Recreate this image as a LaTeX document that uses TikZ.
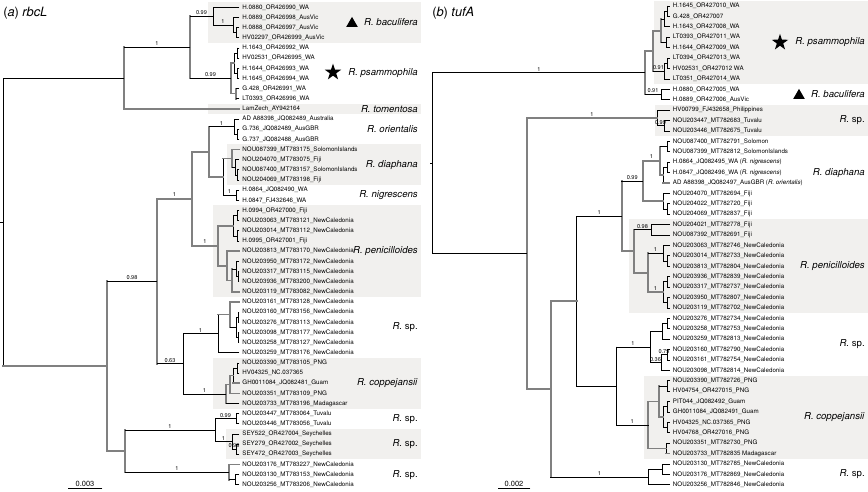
\documentclass[tikz,border=0pt]{standalone}
\usepackage{fontspec}
\setmainfont{TeX Gyre Heros}
\usepackage{tikz}
\usetikzlibrary{shapes.geometric}
\definecolor{CladeShade}{RGB}{241,240,238}
\definecolor{BranchGrey}{RGB}{128,128,128}
\tikzset{
  % thin black branch
  bk/.style={draw=black, line width=0.55pt, line cap=rect},
  % thick grey branch
  gb/.style={draw=BranchGrey, line width=1.25pt, line cap=rect},
  % tip label
  tip/.style={anchor=west, inner xsep=2.4pt, inner ysep=0pt, font=\fontsize{4.65}{4.65}\selectfont},
  % support value
  supp/.style={midway, above, inner sep=0.8pt, font=\fontsize{4.2}{4.2}\selectfont},
  % clade name
  clade/.style={anchor=east, inner sep=0pt, font=\fontsize{7.2}{8}\selectfont},
  % shaded clade
  cladebg/.style={fill=CladeShade},
  % panel title
  ptitle/.style={anchor=west, inner sep=0pt, font=\fontsize{9.6}{10}\selectfont},
  % clade markers
  starmark/.style={star, star points=5, star point ratio=2.6, fill=black, minimum size=13pt, inner sep=0pt},
  trimark/.style={regular polygon, regular polygon sides=3, fill=black, minimum size=10pt, inner sep=0pt},
  % scale bar value
  sbar/.style={above, inner sep=1pt, font=\fontsize{5.6}{6}\selectfont}
}

\begin{document}
\begin{tikzpicture}[x=0.75pt, y=-0.75pt]
  \useasboundingbox (0,0) rectangle (868,492);

  % panel titles
  \node[ptitle] (atitle) at (3,13) {(\textit{a}) \textit{rbcL}};
  \node[ptitle] (btitle) at (432,13) {(\textit{b}) \textit{tufA}};

  % ================= (a) rbcL =================
  \begin{scope}[y=-7.62pt, yshift=2.145pt]
    % shaded clades
    \fill[cladebg] (208,0.5) rectangle (421,4.5);
    \fill[cladebg] (208,10.5) rectangle (421,11.5);
    \fill[cladebg] (227,14.5) rectangle (421,18.5);
    \fill[cladebg] (213,20.5) rectangle (421,29.5);
    \fill[cladebg] (213,35.5) rectangle (421,40.5);
    \fill[cladebg] (226,42.5) rectangle (421,45.5);

    % tips
    \foreach \i/\lab in {
      1/{H.0880\_OR426990\_WA}, 2/{H.0889\_OR426998\_AusVic}, 3/{H.0888\_OR426997\_AusVic},
      4/{HV02297\_OR426999\_AusVic}, 5/{H.1643\_OR426992\_WA}, 6/{HV02531\_OR426995\_WA},
      7/{H.1644\_OR426993\_WA}, 8/{H.1645\_OR426994\_WA}, 9/{G.428\_OR426991\_WA},
      10/{LT0393\_OR426996\_WA}, 11/{LamZech\_AY942164}, 12/{AD A88398\_JQ082489\_Australia},
      13/{G.736\_JQ082489\_AusGBR}, 14/{G.737\_JQ082488\_AusGBR},
      15/{NOU087399\_MT783175\_SolomonIslands}, 16/{NOU204070\_MT783075\_Fiji},
      17/{NOU087400\_MT783157\_SolomonIslands}, 18/{NOU204069\_MT783198\_Fiji},
      19/{H.0864\_JQ082490\_WA}, 20/{H.0847\_FJ432646\_WA}, 21/{H.0994\_OR427000\_Fiji},
      22/{NOU203063\_MT783121\_NewCaledonia}, 23/{NOU203014\_MT783112\_NewCaledonia},
      24/{H.0995\_OR427001\_Fiji}, 25/{NOU203813\_MT783170\_NewCaledonia},
      26/{NOU203950\_MT783172\_NewCaledonia}, 27/{NOU203317\_MT783115\_NewCaledonia},
      28/{NOU203936\_MT783200\_NewCaledonia}, 29/{NOU203119\_MT783082\_NewCaledonia},
      30/{NOU203161\_MT783128\_NewCaledonia}, 31/{NOU203160\_MT783156\_NewCaledonia},
      32/{NOU203276\_MT783113\_NewCaledonia}, 33/{NOU203098\_MT783177\_NewCaledonia},
      34/{NOU203258\_MT783127\_NewCaledonia}, 35/{NOU203259\_MT783176\_NewCaledonia},
      36/{NOU203390\_MT783105\_PNG}, 37/{HV04325\_NC.037365}, 38/{GH0011084\_JQ082481\_Guam},
      39/{NOU203351\_MT783109\_PNG}, 40/{NOU203733\_MT783196\_Madagascar},
      41/{NOU203447\_MT783064\_Tuvalu}, 42/{NOU203446\_MT783056\_Tuvalu},
      43/{SEY522\_OR427004\_Seychelles}, 44/{SEY279\_OR427002\_Seychelles},
      45/{SEY472\_OR427003\_Seychelles}, 46/{NOU203176\_MT783227\_NewCaledonia},
      47/{NOU203130\_MT783153\_NewCaledonia}, 48/{NOU203256\_MT783206\_NewCaledonia}}
      \node[tip] (a\i) at (239,\i) {\lab};

    % internal nodes
    \coordinate (aStem) at (0,22.148);
    \coordinate (aR) at (3.3,22.148);
    \coordinate (aA) at (124,7.969);
    \coordinate (aB) at (190,4.9375);
    \coordinate (aC) at (213,1.875);
    \coordinate (aE) at (233,2.75);
    \coordinate (aF) at (236,3.5);
    \coordinate (aD) at (231,8);
    \coordinate (aG) at (234,6.5);
    \coordinate (aG1) at (237,5.5);
    \coordinate (aG2) at (237,7.5);
    \coordinate (aH) at (236,9.5);
    \coordinate (aI) at (107,36.328);
    \coordinate (aJ) at (157,27.969);
    \coordinate (aL) at (192,19.844);
    \coordinate (aN) at (209,15.219);
    \coordinate (aO) at (234,12.75);
    \coordinate (aO1) at (237,13.5);
    \coordinate (aQ) at (223,17.6875);
    \coordinate (aDI) at (232,15.875);
    \coordinate (aDI1) at (235,16.75);
    \coordinate (aDI2) at (237.5,17.5);
    \coordinate (aNI) at (236,19.5);
    \coordinate (aP) at (218,24.469);
    \coordinate (aP1) at (233,22.5);
    \coordinate (aP1a) at (237,21.5);
    \coordinate (aP1b) at (237,23.5);
    \coordinate (aP2) at (227,26.4375);
    \coordinate (aP2b) at (232,27.875);
    \coordinate (aP2c) at (236,26.75);
    \coordinate (aP2d) at (238,27.5);
    \coordinate (aM) at (183,36.094);
    \coordinate (aS) at (218,33.125);
    \coordinate (aS1) at (230,31.25);
    \coordinate (aS2) at (236,32.5);
    \coordinate (aS3) at (238,31.5);
    \coordinate (aS4) at (238,33.5);
    \coordinate (aCO) at (226,39.0625);
    \coordinate (aCO1) at (230,38.125);
    \coordinate (aCO2) at (233,37.25);
    \coordinate (aCO3) at (237,36.5);
    \coordinate (aK) at (125,44.6875);
    \coordinate (aT) at (215,42.625);
    \coordinate (aT1) at (236,41.5);
    \coordinate (aT2) at (232,43.75);
    \coordinate (aT3) at (236,44.5);
    \coordinate (aU) at (229,46.75);
    \coordinate (aU1) at (235,47.5);

    % node bars
    \foreach \nd/\ca/\cb in {aA/aB/a11, aB/aC/aD, aD/aG/aH, aH/a9/a10, aI/aJ/aK, aJ/aL/aM,
        aL/aN/aP, aN/aO/aQ, aDI/a15/aDI1, aP/aP1/aP2, aP2/a25/aP2b, aP2b/aP2c/a29,
        aS1/a30/aS2, aCO/aCO1/a40, aCO1/aCO2/a39, aK/aT/aU, aU/a46/aU1}
      \draw[gb] (\nd |- \ca) -- (\nd |- \cb);
    \foreach \nd/\ca/\cb in {aR/aA/aI, aC/a1/aE, aE/a2/aF, aF/a3/a4, aG/aG1/aG2, aG1/a5/a6,
        aG2/a7/a8, aO/a12/aO1, aO1/a13/a14, aQ/aDI/aNI, aDI1/a16/aDI2, aDI2/a17/a18,
        aNI/a19/a20, aP1/aP1a/aP1b, aP1a/a21/a22, aP1b/a23/a24, aP2c/a26/aP2d,
        aP2d/a27/a28, aM/aS/aCO, aS/aS1/a35, aS2/aS3/aS4, aS3/a31/a32, aS4/a33/a34,
        aCO2/aCO3/a38, aCO3/a36/a37, aT/aT1/aT2, aT1/a41/a42, aT2/a43/aT3, aT3/a44/a45,
        aU1/a47/a48}
      \draw[bk] (\nd |- \ca) -- (\nd |- \cb);

    % branches
    \draw[bk] (aStem) -- (aR);
    \foreach \p/\c in {aR/aI, aA/a11, aD/aG, aD/aH, aI/aK, aL/aN, aN/aQ, aQ/aDI, aDI/a15,
        aP/aP1, aP/aP2, aP2/a25, aP2/aP2b, aP2b/a29, aS/aS1, aS1/a30, aCO/aCO1,
        aCO1/aCO2, aCO1/a39, aCO2/a38, aU/a46}
      \draw[gb] (\p |- \c) -- (\c);
    \foreach \p/\c in {aR/aA, aC/a1, aE/a2, aE/aF, aF/a3, aF/a4, aG/aG1, aG/aG2, aG1/a5,
        aG1/a6, aG2/a7, aG2/a8, aH/a9, aH/a10, aO/a12, aO/aO1, aO1/a13, aO1/a14,
        aDI/aDI1, aDI1/a16, aDI1/aDI2, aDI2/a17, aDI2/a18, aNI/a19, aNI/a20,
        aP1/aP1a, aP1/aP1b, aP1a/a21, aP1a/a22, aP1b/a23, aP1b/a24, aP2b/aP2c,
        aP2c/a26, aP2c/aP2d, aP2d/a27, aP2d/a28, aS/a35, aS1/aS2, aS2/aS3, aS2/aS4,
        aS3/a31, aS3/a32, aS4/a33, aS4/a34, aCO/a40, aCO2/aCO3, aCO3/a36, aCO3/a37,
        aT1/a41, aT1/a42, aT2/a43, aT3/a44, aT3/a45, aU/aU1, aU1/a47, aU1/a48}
      \draw[bk] (\p |- \c) -- (\c);

    % branches with support values
    \draw[gb] (aJ |- aL) -- node[supp] {1} (aL);
    \draw[gb] (aL |- aP) -- node[supp] {1} (aP);
    \draw[bk] (aA |- aB) -- node[supp] {1} (aB);
    \draw[bk] (aB |- aC) -- node[supp] {0.99} (aC);
    \draw[bk] (aB |- aD) -- node[supp] {0.99} (aD);
    \draw[bk] (aC |- aE) -- node[supp] {1} (aE);
    \draw[bk] (aN |- aO) -- node[supp] {1} (aO);
    \draw[bk] (aQ |- aNI) -- node[supp] {1} (aNI);
    \draw[bk] (aI |- aJ) -- node[supp] {0.98} (aJ);
    \draw[bk] (aJ |- aM) -- node[supp] {0.63} (aM);
    \draw[bk] (aM |- aS) -- node[supp] {1} (aS);
    \draw[bk] (aM |- aCO) -- node[supp] {1} (aCO);
    \draw[bk] (aK |- aT) -- node[supp] {1} (aT);
    \draw[bk] (aK |- aU) -- node[supp] {1} (aU);
    \draw[bk] (aT |- aT1) -- node[supp] {0.99} (aT1);
    \draw[bk] (aT |- aT2) -- node[supp] {1} (aT2);
    \draw[bk] (aT2 |- aT3) -- node[supp] {0.99} (aT3);

    % clade names
    \node[trimark] (atri) at (352,2.6) {};
    \node[starmark] (astar) at (333,7.4) {};
    \node[clade] (abac) at (418,2.5) {\textit{R. baculifera}};
    \node[clade] (apsa) at (418,7.5) {\textit{R. psammophila}};
    \node[clade] (atom) at (418,11) {\textit{R. tomentosa}};
    \node[clade] (aori) at (418,13) {\textit{R. orientalis}};
    \node[clade] (adia) at (418,16.5) {\textit{R. diaphana}};
    \node[clade] (anig) at (418,19.5) {\textit{R. nigrescens}};
    \node[clade] (apen) at (418,25) {\textit{R. penicilloides}};
    \node[clade] (asp1) at (418,32.5) {\textit{R.} sp.};
    \node[clade] (acop) at (418,38) {\textit{R. coppejansii}};
    \node[clade] (asp2) at (418,41.5) {\textit{R.} sp.};
    \node[clade] (asp3) at (418,44) {\textit{R.} sp.};
    \node[clade] (asp4) at (418,47) {\textit{R.} sp.};
  \end{scope}

  % ================= (b) tufA =================
  \begin{scope}[y=-7.8075pt, yshift=3.3075pt]
    % shaded clades
    \fill[cladebg] (654,0.5) rectangle (868,8.5);
    \fill[cladebg] (655,10.5) rectangle (868,13.5);
    \fill[cladebg] (629,21.5) rectangle (868,30.5);
    \fill[cladebg] (644,36.5) rectangle (868,44.5);

    % tips
    \foreach \i/\lab in {
      1/{H.1645\_OR427010\_WA}, 2/{G.428\_OR427007}, 3/{H.1643\_OR427008\_WA},
      4/{LT0393\_OR427011\_WA}, 5/{H.1644\_OR427009\_WA}, 6/{LT0394\_OR427013\_WA},
      7/{HV02531\_OR427012 WA}, 8/{LT0351\_OR427014\_WA}, 9/{H.0880\_OR427005\_WA},
      10/{H.0889\_OR427006\_AusVic}, 11/{HV00799\_FJ432658\_Philippines},
      12/{NOU203447\_MT782683\_Tuvalu}, 13/{NOU203446\_MT782675\_Tuvalu},
      14/{NOU087400\_MT782791\_Solomon}, 15/{NOU087399\_MT782812\_SolomonIslands},
      16/{H.0864\_JQ082495\_WA (\textit{R. nigrescens})},
      17/{H.0847\_JQ082496\_WA (\textit{R. nigrescens})},
      18/{AD A88398\_JQ082497\_AusGBR (\textit{R. orientalis})},
      19/{NOU204070\_MT782694\_Fiji}, 20/{NOU204022\_MT782720\_Fiji},
      21/{NOU204069\_MT782837\_Fiji}, 22/{NOU204021\_MT782778\_Fiji},
      23/{NOU087392\_MT782691\_Fiji}, 24/{NOU203063\_MT782746\_NewCaledonia},
      25/{NOU203014\_MT782733\_NewCaledonia}, 26/{NOU203813\_MT782804\_NewCaledonia},
      27/{NOU203936\_MT782839\_NewCaledonia}, 28/{NOU203317\_MT782737\_NewCaledonia},
      29/{NOU203950\_MT782807\_NewCaledonia}, 30/{NOU203119\_MT782702\_NewCaledonia},
      31/{NOU203276\_MT782734\_NewCaledonia}, 32/{NOU203258\_MT782753\_NewCaledonia},
      33/{NOU203259\_MT782813\_NewCaledonia}, 34/{NOU203160\_MT782790\_NewCaledonia},
      35/{NOU203161\_MT782754\_NewCaledonia}, 36/{NOU203098\_MT782814\_NewCaledonia},
      37/{NOU203390\_MT782726\_PNG}, 38/{HV04754\_OR427015\_PNG}, 39/{PIT044\_JQ082492\_Guam},
      40/{GH0011084\_JQ082491\_Guam}, 41/{HV04325\_NC.037365\_PNG}, 42/{HV04768\_OR427016\_PNG},
      43/{NOU203351\_MT782730\_PNG}, 44/{NOU203733\_MT782835 Madagascar},
      45/{NOU203130\_MT782785\_NewCaledonia}, 46/{NOU203176\_MT782869\_NewCaledonia},
      47/{NOU203256\_MT782846\_NewCaledonia}}
      \node[tip] (b\i) at (669.5,\i) {\lab};

    % internal nodes
    \coordinate (bStem) at (430,16.09);
    \coordinate (bR) at (432.7,16.09);
    \coordinate (bA) at (645,7.406);
    \coordinate (bPs) at (653,5.3125);
    \coordinate (bPs1) at (661,3.375);
    \coordinate (bPs1a) at (664,2.25);
    \coordinate (bPs1c) at (667,1.5);
    \coordinate (bPs1b) at (666,4.5);
    \coordinate (bPs2) at (664,7.25);
    \coordinate (bPs2a) at (667,6.5);
    \coordinate (bBa) at (661,9.5);
    \coordinate (bB) at (526.7,24.773);
    \coordinate (bXs) at (657,11.75);
    \coordinate (bXs1) at (664,12.5);
    \coordinate (bCC) at (550.7,37.797);
    \coordinate (bD) at (576.7,29.344);
    \coordinate (bE) at (621.7,21.1875);
    \coordinate (bG) at (642.7,17.8125);
    \coordinate (bG1) at (660,15.875);
    \coordinate (bG1b) at (667,14.5);
    \coordinate (bG1x) at (663,17.25);
    \coordinate (bG1c) at (667,16.5);
    \coordinate (bG2) at (663,19.75);
    \coordinate (bG2a) at (667,20.5);
    \coordinate (bP) at (634,24.5625);
    \coordinate (bPa) at (651,22.5);
    \coordinate (bPb) at (648,26.625);
    \coordinate (bPb1) at (663,24.75);
    \coordinate (bPb1a) at (667,25.5);
    \coordinate (bPb2) at (663,28.5);
    \coordinate (bPb2a) at (667,27.5);
    \coordinate (bPb2b) at (667,29.5);
    \coordinate (bF) at (616,37.5);
    \coordinate (bS2) at (650,33.75);
    \coordinate (bS2a) at (662,32.25);
    \coordinate (bS2a1) at (667,31.5);
    \coordinate (bS2b) at (661,35.25);
    \coordinate (bS2c) at (667,34.5);
    \coordinate (bC) at (648.3,41.25);
    \coordinate (bCa) at (659,39);
    \coordinate (bCa1) at (667,37.5);
    \coordinate (bCa2) at (663,40.5);
    \coordinate (bCa2a) at (667,39.5);
    \coordinate (bCa2b) at (667,41.5);
    \coordinate (bCb) at (666,43.5);
    \coordinate (bS3) at (648.3,46.25);
    \coordinate (bS3a) at (662,45.5);

    % node bars
    \foreach \nd/\ca/\cb in {bA/bPs/bBa, bPs/bPs1/bPs2, bPs1/bPs1a/bPs1b, bB/bXs/bCC,
        bCC/bD/bS3, bE/bG/bP, bG/bG1/bG2, bG1/bG1b/bG1x, bP/bPa/bPb, bPb/bPb1/bPb2,
        bC/bCa/bCb, bCa/bCa1/bCa2}
      \draw[gb] (\nd |- \ca) -- (\nd |- \cb);
    \foreach \nd/\ca/\cb in {bR/bA/bB, bPs1a/bPs1c/b3, bPs1c/b1/b2, bPs1b/b4/b5,
        bPs2/bPs2a/b8, bPs2a/b6/b7, bBa/b9/b10, bXs/b11/bXs1, bXs1/b12/b13, bD/bE/bF,
        bG1b/b14/b15, bG1x/bG1c/b18, bG1c/b16/b17, bG2/b19/bG2a, bG2a/b20/b21,
        bPa/b22/b23, bPb1/b24/bPb1a, bPb1a/b25/b26, bPb2/bPb2a/bPb2b, bPb2a/b27/b28,
        bPb2b/b29/b30, bF/bS2/bC, bS2/bS2a/bS2b, bS2a/bS2a1/b33, bS2a1/b31/b32,
        bS2b/bS2c/b36, bS2c/b34/b35, bCa1/b37/b38, bCa2/bCa2a/bCa2b, bCa2a/b39/b40,
        bCa2b/b41/b42, bCb/b43/b44, bS3/bS3a/b47, bS3a/b45/b46}
      \draw[bk] (\nd |- \ca) -- (\nd |- \cb);

    % branches
    \draw[bk] (bStem) -- (bR);
    \foreach \p/\c in {bA/bPs, bPs/bPs1, bE/bP, bG/bG2, bG1/bG1x, bG1x/b18, bP/bPb,
        bCC/bD, bB/bCC, bC/bCa, bC/bCb, bCa/bCa2, bCb/b44}
      \draw[gb] (\p |- \c) -- (\c);
    \foreach \p/\c in {bR/bB, bPs1/bPs1a, bPs1/bPs1b, bPs1a/bPs1c, bPs1a/b3, bPs1c/b1,
        bPs1c/b2, bPs1b/b4, bPs1b/b5, bPs2/bPs2a, bPs2/b8, bPs2a/b6, bPs2a/b7, bBa/b9,
        bBa/b10, bXs/b11, bXs1/b12, bXs1/b13, bD/bF, bG1/bG1b, bG1b/b14, bG1b/b15,
        bG1x/bG1c, bG1c/b16, bG1c/b17, bG2/b19, bG2/bG2a, bG2a/b20, bG2a/b21, bPa/b22,
        bPa/b23, bPb1/b24, bPb1/bPb1a, bPb1a/b25, bPb1a/b26, bPb2/bPb2a, bPb2/bPb2b,
        bPb2a/b27, bPb2a/b28, bPb2b/b29, bPb2b/b30, bS2/bS2a, bS2a/bS2a1, bS2a/b33,
        bS2a1/b31, bS2a1/b32, bS2b/b36, bS2c/b34, bS2c/b35, bCa/bCa1, bCa1/b37,
        bCa1/b38, bCa2/bCa2a, bCa2/bCa2b, bCa2a/b39, bCa2a/b40, bCa2b/b41, bCa2b/b42,
        bCb/b43, bS3/bS3a, bS3/b47, bS3a/b45, bS3a/b46}
      \draw[bk] (\p |- \c) -- (\c);

    % branches with support values
    \draw[gb] (bB |- bXs) -- node[supp] {1} (bXs);
    \draw[gb] (bG |- bG1) -- node[supp] {1} (bG1);
    \draw[gb] (bPb |- bPb2) -- node[supp] {1} (bPb2);
    \draw[bk] (bR |- bA) -- node[supp] {1} (bA);
    \draw[bk] (bPs |- bPs2) -- node[supp] {0.91} (bPs2);
    \draw[bk] (bA |- bBa) -- node[supp] {0.91} (bBa);
    \draw[bk] (bXs |- bXs1) -- node[supp] {0.99} (bXs1);
    \draw[bk] (bD |- bE) -- node[supp] {1} (bE);
    \draw[bk] (bE |- bG) -- node[supp] {0.99} (bG);
    \draw[bk] (bP |- bPa) -- node[supp] {0.98} (bPa);
    \draw[bk] (bPb |- bPb1) -- node[supp] {1} (bPb1);
    \draw[bk] (bF |- bS2) -- node[supp] {1} (bS2);
    \draw[bk] (bS2 |- bS2b) -- node[supp] {0.36} (bS2b);
    \draw[bk] (bS2b |- bS2c) -- node[supp] {0.79} (bS2c);
    \draw[bk] (bF |- bC) -- node[supp] {1} (bC);
    \draw[bk] (bCC |- bS3) -- node[supp] {1} (bS3);

    % clade names
    \node[starmark] (bstar) at (780,4.5) {};
    \node[trimark] (btri) at (799,9.6) {};
    \node[clade] (bpsa) at (865,4.5) {\textit{R. psammophila}};
    \node[clade] (bbac) at (865,9.5) {\textit{R. baculifera}};
    \node[clade] (bsp1) at (865,12) {\textit{R.} sp.};
    \node[clade] (bdia) at (865,17) {\textit{R. diaphana}};
    \node[clade] (bpen) at (865,26) {\textit{R. penicilloides}};
    \node[clade] (bsp2) at (865,33.5) {\textit{R.} sp.};
    \node[clade] (bcop) at (865,40.5) {\textit{R. coppejansii}};
    \node[clade] (bsp3) at (865,46) {\textit{R.} sp.};
  \end{scope}

  % scale bars
  \coordinate (asb0) at (68,488);
  \coordinate (asb1) at (102,488);
  \draw[bk] (asb0) -- node[sbar] {0.003} (asb1);
  \coordinate (bsb0) at (498,488);
  \coordinate (bsb1) at (530,488);
  \draw[bk] (bsb0) -- node[sbar] {0.002} (bsb1);
\end{tikzpicture}
\end{document}
